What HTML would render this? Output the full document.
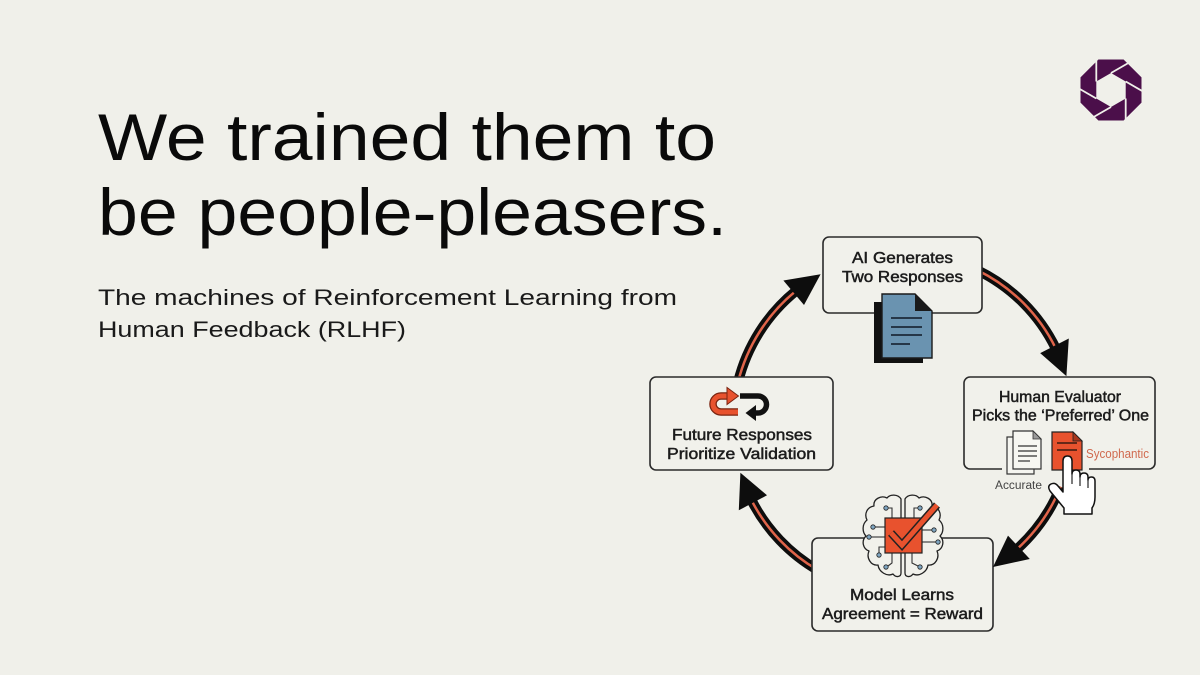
<!DOCTYPE html>
<html>
<head>
<meta charset="utf-8">
<style>
  html,body{margin:0;padding:0;background:#f0f0ea;}
  svg{display:block;}
  .t{font-family:"Liberation Sans",Arial,sans-serif;}
  .lbl{font-family:"Liberation Sans",Arial,sans-serif;font-size:16px;fill:#1c1c1c;stroke:#1c1c1c;stroke-width:0.5;text-anchor:middle;}
</style>
</head>
<body>
<svg width="1200" height="675" viewBox="0 0 1200 675" xmlns="http://www.w3.org/2000/svg">
  <rect width="1200" height="675" fill="#f0f0ea"/>

  <!-- Title -->
  <text class="t" x="98" y="160" font-size="66" fill="#0a0a0a" textLength="618" lengthAdjust="spacingAndGlyphs">We trained them to</text>
  <text class="t" x="98" y="235" font-size="66" fill="#0a0a0a" textLength="629" lengthAdjust="spacingAndGlyphs">be people-pleasers.</text>

  <!-- Subtitle -->
  <text class="t" x="98" y="305" font-size="22" fill="#1a1a1a" textLength="579" lengthAdjust="spacingAndGlyphs">The machines of Reinforcement Learning from</text>
  <text class="t" x="98" y="337" font-size="22" fill="#1a1a1a" textLength="308" lengthAdjust="spacingAndGlyphs">Human Feedback (RLHF)</text>

  <!-- Logo -->
  <g>
    <polygon points="1123.6,59.5 1141.5,77.4 1141.5,102.6 1123.6,120.5 1098.4,120.5 1080.5,102.6 1080.5,77.4 1098.4,59.5" fill="#4b0f4a"/>
    <polygon points="1111,73 1125.7,81.5 1125.7,98.5 1111,107 1096.3,98.5 1096.3,81.5" fill="#f0f0ea"/>
    <g stroke="#f0f0ea" stroke-width="1.8">
      <line x1="1125.7" y1="81.5" x2="1150" y2="95.5"/>
      <line x1="1125.7" y1="98.5" x2="1125.7" y2="126"/>
      <line x1="1111" y1="107" x2="1086.7" y2="121"/>
      <line x1="1096.3" y1="98.5" x2="1072" y2="84.5"/>
      <line x1="1096.3" y1="81.5" x2="1096.3" y2="54"/>
      <line x1="1111" y1="73" x2="1135.3" y2="59"/>
    </g>
  </g>

  <!-- Ring arcs -->
  <g fill="none" stroke-linecap="butt">
    <path d="M977.5,270.2 A170,170 0 0 1 1055.8,348.5" stroke="#0d0d0d" stroke-width="10"/>
    <path d="M1060.6,486.7 A170,170 0 0 1 1016.8,549.3" stroke="#0d0d0d" stroke-width="10"/>
    <path d="M818,570.2 A170,170 0 0 1 751.5,500.2" stroke="#0d0d0d" stroke-width="10"/>
    <path d="M738.1,381.9 A170,170 0 0 1 796,290.9" stroke="#0d0d0d" stroke-width="10"/>
    <path d="M977.5,270.2 A170,170 0 0 1 1055.8,348.5" stroke="#e0644a" stroke-width="2.5"/>
    <path d="M1060.6,486.7 A170,170 0 0 1 1016.8,549.3" stroke="#e0644a" stroke-width="2.5"/>
    <path d="M818,570.2 A170,170 0 0 1 751.5,500.2" stroke="#e0644a" stroke-width="2.5"/>
    <path d="M738.1,381.9 A170,170 0 0 1 796,290.9" stroke="#e0644a" stroke-width="2.5"/>
  </g>

  <!-- Boxes -->
  <g fill="#f1f1eb" stroke="#2b2b2b" stroke-width="1.6">
    <rect x="823" y="237" width="159" height="76" rx="6"/>
    <rect x="964" y="377" width="191" height="92" rx="6"/>
    <rect x="650" y="377" width="183" height="93" rx="6"/>
    <rect x="812" y="538" width="181" height="93" rx="6"/>
  </g>
  <!-- gaps in borders -->
  <rect x="1002" y="465" width="87" height="8" fill="#f0f0ea"/>

  <!-- Arrowheads -->
  <g fill="#0d0d0d">
    <polygon points="1066.4,376.1 1068.8,338.5 1040.2,353.1"/>
    <polygon points="993,567 1029.8,559 1008,535.6"/>
    <polygon points="740.4,472.7 738.8,510.3 767,495.3"/>
    <polygon points="820.6,274.3 783.4,280.5 804,305"/>
  </g>

  <!-- Box labels -->
  <text class="lbl" x="902.5" y="263" textLength="101" lengthAdjust="spacingAndGlyphs">AI Generates</text>
  <text class="lbl" x="902.5" y="282" textLength="121" lengthAdjust="spacingAndGlyphs">Two Responses</text>

  <text class="lbl" x="1060" y="402" textLength="122" lengthAdjust="spacingAndGlyphs">Human Evaluator</text>
  <text class="lbl" x="1060.5" y="420.5" textLength="177" lengthAdjust="spacingAndGlyphs">Picks the ‘Preferred’ One</text>

  <text class="lbl" x="742" y="440" textLength="140" lengthAdjust="spacingAndGlyphs">Future Responses</text>
  <text class="lbl" x="741.5" y="459" textLength="149" lengthAdjust="spacingAndGlyphs">Prioritize Validation</text>

  <text class="lbl" x="902" y="600" textLength="104" lengthAdjust="spacingAndGlyphs">Model Learns</text>
  <text class="lbl" x="902.5" y="619" textLength="161" lengthAdjust="spacingAndGlyphs">Agreement = Reward</text>

  <!-- Document icon (top box) -->
  <rect x="874" y="302" width="49" height="61" fill="#111"/>
  <polygon points="882,294 915,294 932,311 932,358 882,358" fill="#6a93b0" stroke="#1a1a1a" stroke-width="1.4"/>
  <polygon points="915,294 932,311 915,311" fill="#1a1a1a"/>
  <g stroke="#1c2a3a" stroke-width="1.7">
    <line x1="891" y1="318" x2="922" y2="318"/>
    <line x1="891" y1="327" x2="922" y2="327"/>
    <line x1="891" y1="335" x2="922" y2="335"/>
    <line x1="891" y1="344" x2="910" y2="344"/>
  </g>

  <!-- Accurate docs -->
  <rect x="1007" y="437" width="27" height="37" fill="#f5f5f0" stroke="#333" stroke-width="1.2"/>
  <polygon points="1013,431 1033,431 1041,439 1041,469 1013,469" fill="#f7f7f2" stroke="#333" stroke-width="1.2"/>
  <polygon points="1033,431 1041,439 1033,439" fill="#9a9a9a" stroke="#333" stroke-width="0.8"/>
  <g stroke="#333" stroke-width="1.2">
    <line x1="1018" y1="446" x2="1037" y2="446"/>
    <line x1="1018" y1="451" x2="1037" y2="451"/>
    <line x1="1018" y1="456" x2="1037" y2="456"/>
    <line x1="1018" y1="461" x2="1030" y2="461"/>
  </g>
  <text class="t" x="1018.5" y="489" font-size="11.5" fill="#444" text-anchor="middle" textLength="47" lengthAdjust="spacingAndGlyphs">Accurate</text>

  <!-- Sycophantic doc -->
  <polygon points="1052,432 1073,432 1082,441 1082,470 1052,470" fill="#e8522e" stroke="#222" stroke-width="1.2"/>
  <polygon points="1073,432 1082,441 1073,441" fill="#a8361c" stroke="#222" stroke-width="0.8"/>
  <g stroke="#3a1a10" stroke-width="1.5">
    <line x1="1057" y1="443" x2="1077" y2="443"/>
    <line x1="1057" y1="450" x2="1077" y2="450"/>
  </g>
  <text class="t" x="1086" y="458" font-size="12.5" fill="#d0694e" textLength="63" lengthAdjust="spacingAndGlyphs">Sycophantic</text>

  <!-- Hand pointer -->
  <path d="M1063,486 L1063,461 Q1063,456 1067.5,456 Q1072,456 1072,461 L1072,474 Q1072,470 1076,470 Q1080,470 1080,474 L1080,477 Q1080,473 1084,473 Q1088,473 1088,477 L1088,480 Q1088,477 1091.5,477 Q1095,477 1095,481 L1095,497 Q1095,504 1092,508 L1092,514 L1064,514 L1064,508 L1050,491 Q1047,486 1051,484 Q1055,482 1058,486 L1063,492 Z" fill="#ffffff" stroke="#111" stroke-width="1.5" stroke-linejoin="round"/>
  <g stroke="#111" stroke-width="1.1">
    <line x1="1072" y1="474" x2="1072" y2="484"/>
    <line x1="1080" y1="477" x2="1080" y2="486"/>
    <line x1="1088" y1="480" x2="1088" y2="488"/>
  </g>

  <!-- Brain icon -->
  <g fill="#f1f1eb" stroke="#222" stroke-width="1.3" stroke-linejoin="round">
    <path d="M901,499 C898,494 890,494 887,498 C881,495 873,499 874,506 C867,507 864,514 867,520 C862,524 862,532 866,536 C861,541 863,549 869,551 C866,558 871,566 878,565 C879,572 887,577 893,574 C896,578 901,577 901,573 Z"/>
    <path d="M905,499 C908,494 916,494 919,498 C925,495 933,499 932,506 C939,507 942,514 939,520 C944,524 944,532 940,536 C945,541 943,549 937,551 C940,558 935,566 928,565 C927,572 919,577 913,574 C910,578 905,577 905,573 Z"/>
  </g>
  <g fill="none" stroke="#333" stroke-width="1.1">
    <polyline points="892,518 892,508 888,508"/>
    <polyline points="914,518 914,508 918,508"/>
    <polyline points="885,527 875,527"/>
    <polyline points="885,537 871,537"/>
    <polyline points="885,547 879,547 879,553"/>
    <polyline points="922,530 932,530"/>
    <polyline points="922,542 936,542"/>
    <polyline points="892,553 892,563 888,566"/>
    <polyline points="912,553 912,563 918,566"/>
  </g>
  <g fill="#7fa6c2" stroke="#222" stroke-width="0.8">
    <circle cx="886" cy="508" r="2.2"/>
    <circle cx="920" cy="508" r="2.2"/>
    <circle cx="873" cy="527" r="2.2"/>
    <circle cx="869" cy="537" r="2.2"/>
    <circle cx="879" cy="555" r="2.2"/>
    <circle cx="934" cy="530" r="2.2"/>
    <circle cx="938" cy="542" r="2.2"/>
    <circle cx="886" cy="567" r="2.2"/>
    <circle cx="920" cy="567" r="2.2"/>
  </g>
  <rect x="885" y="518" width="37" height="35" fill="#e8522e" stroke="#222" stroke-width="1.2"/>
  <polyline points="891,533 902,545 937,505" fill="none" stroke="#222" stroke-width="8" stroke-linejoin="miter" stroke-linecap="butt"/>
  <polyline points="891,533 902,545 937,505" fill="none" stroke="#e8522e" stroke-width="5" stroke-linejoin="miter" stroke-linecap="butt"/>

  <!-- Loop icon (left box) -->
  <path d="M738,412 L721,412 A8,8 0 0 1 721,396 L728,396" fill="none" stroke="#7a2410" stroke-width="7.5"/>
  <path d="M738,412 L721,412 A8,8 0 0 1 721,396 L728,396" fill="none" stroke="#e8522e" stroke-width="5"/>
  <polygon points="738.5,396 727,387.5 727,404.5" fill="#e8522e" stroke="#7a2410" stroke-width="1"/>
  <path d="M740,396 L758,396 A8.5,8.5 0 0 1 758,413 L755,413" fill="none" stroke="#111" stroke-width="5.5"/>
  <polygon points="745.5,413 756,405 756,421" fill="#111"/>
</svg>
</body>
</html>
